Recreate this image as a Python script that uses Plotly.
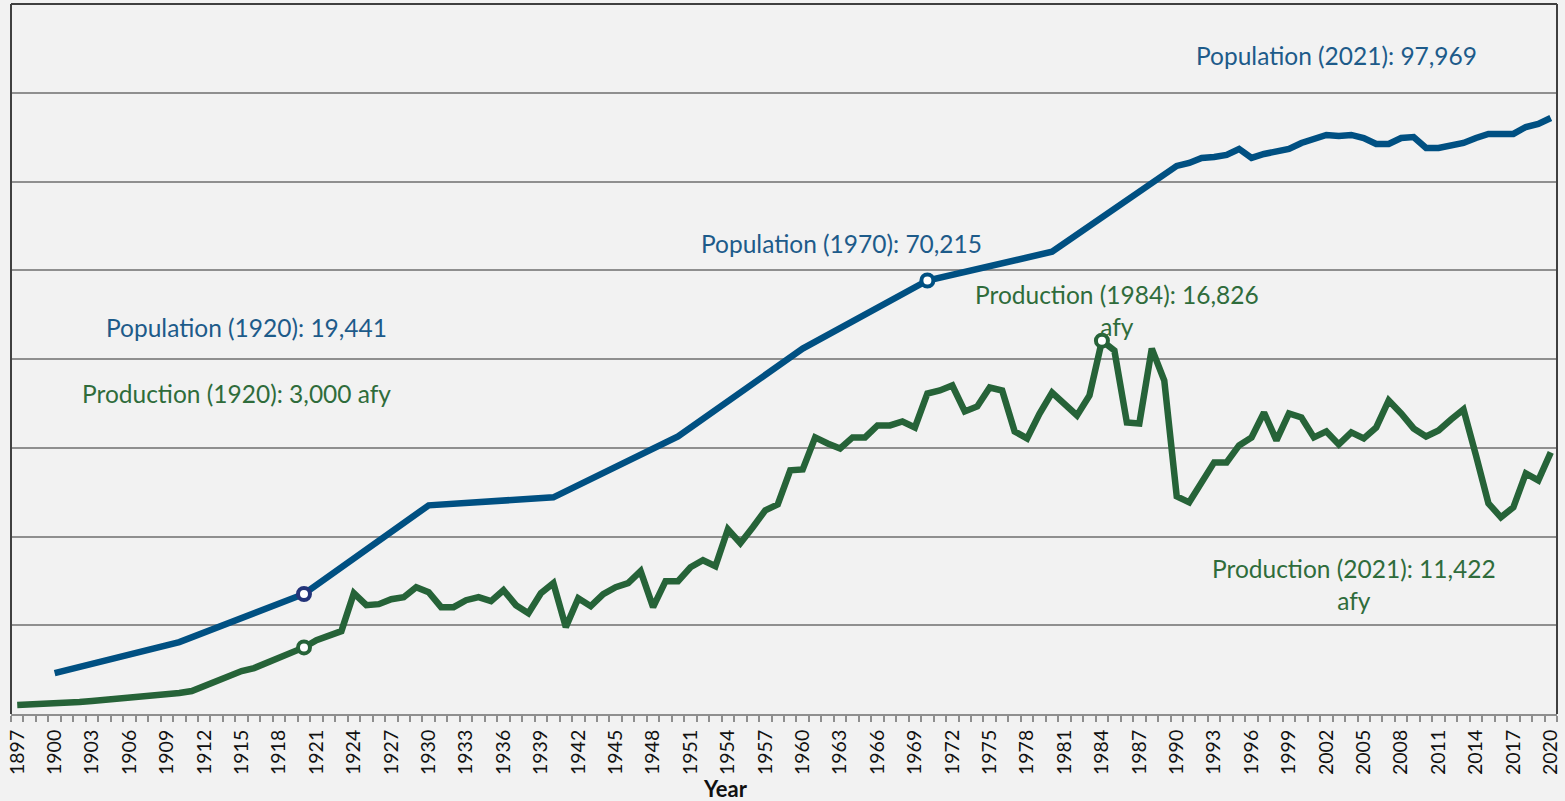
import plotly.graph_objects as go

# ---------------- data ----------------
years = list(range(1897, 2021))

production_afy = [
    405, 420, 435, 450, 495, 540, 585, 630, 675, 720,          # 1897-1906
    765, 810, 900, 945, 1035, 1260, 1530, 1755, 1935, 2070,    # 1907-1916
    2295, 2565, 2745, 3000, 3330, 3510, 3735, 5445, 4905, 4950,  # 1917-1926
    5175, 5265, 5715, 5490, 4815, 4815, 5130, 5265, 5085, 5580,  # 1927-1936
    4905, 4545, 5445, 5895, 3915, 5220, 4860, 5400, 5715, 5895,  # 1937-1946
    6435, 4815, 5985, 5985, 6615, 6930, 6660, 8325, 7695, 8415,  # 1947-1956
    9180, 9450, 10980, 11025, 12465, 12195, 11970, 12465, 12465, 13005,  # 1957-1966
    13005, 13185, 12915, 14445, 14580, 14805, 13635, 13860, 14715, 14580,  # 1967-1976
    12735, 12420, 13545, 14490, 13995, 13455, 14355, 16826, 16380, 13140,  # 1977-1986
    13095, 16470, 15030, 9810, 9540, 10440, 11340, 11340, 12105, 12465,    # 1987-1996
    13590, 12330, 13545, 13365, 12465, 12735, 12150, 12690, 12420, 12915,  # 1997-2006
    14130, 13545, 12870, 12510, 12780, 13275, 13725, 11655, 9495, 8865,    # 2007-2016
    9315, 10845, 10530, 11790,                                           # 2017-2020
]

population_years = [1900, 1910, 1920, 1930, 1940, 1950, 1960, 1970, 1980,
                    1990, 1991, 1992, 1993, 1994, 1995, 1996, 1997, 1998, 1999,
                    2000, 2001, 2002, 2003, 2004, 2005, 2006, 2007, 2008, 2009,
                    2010, 2011, 2012, 2013, 2014, 2015, 2016, 2017, 2018, 2019, 2020]
population = [6630, 11640, 19441, 33800, 35090, 44950, 59180, 70215, 74870,
              88770, 89260, 90070, 90230, 90550, 91520, 90070, 90710, 91200, 91520,
              92490, 93140, 93790, 93620, 93790, 93300, 92330, 92330, 93300, 93460,
              91680, 91680, 92010, 92490, 93300, 93950, 93950, 93950, 95080, 95560, 96530]

pop_marker_years = [1920, 1970]
pop_marker_values = [19441, 70215]
prod_marker_years = [1920, 1984]
prod_marker_values = [3000, 16826]

tick_years = list(range(1897, 2021, 3))
tick_labels = [str(y) for y in tick_years]

# ---------------- styling ----------------
BLUE = "#005082"
BLUE_TXT = "#1d5b8a"
NAVY = "#233479"
GREEN = "#266338"
GREEN_TXT = "#2f6c3b"
BG = "#f2f2f2"
GRID = "#8f8f8f"
BORDER = "#404040"
FONT = "Lato"

fig = go.Figure()

fig.add_trace(go.Scatter(
    x=years, y=production_afy, yaxis="y2", mode="lines",
    line=dict(color=GREEN, width=6.5), name="Production", showlegend=False))
fig.add_trace(go.Scatter(
    x=population_years, y=population, mode="lines",
    line=dict(color=BLUE, width=6.5), name="Population", showlegend=False))

fig.add_trace(go.Scatter(
    x=prod_marker_years, y=prod_marker_values, yaxis="y2", mode="markers",
    marker=dict(size=12, color="white", line=dict(color=GREEN, width=4)),
    showlegend=False))
fig.add_trace(go.Scatter(
    x=pop_marker_years, y=pop_marker_values, mode="markers",
    marker=dict(size=12, color="white", line=dict(color=[NAVY, BLUE], width=4)),
    showlegend=False))

annos = [
    ("Population (2021): 97,969", 2002.8, 0.927, BLUE_TXT),
    ("Population (1970): 70,215", 1963.1, 0.663, BLUE_TXT),
    ("Production (1984): 16,826<br>afy", 1985.2, 0.568, GREEN_TXT),
    ("Population (1920): 19,441", 1915.4, 0.545, BLUE_TXT),
    ("Production (1920): 3,000 afy", 1914.6, 0.452, GREEN_TXT),
    ("Production (2021): 11,422<br>afy", 2004.2, 0.182, GREEN_TXT),
]
annotations = []
for text, ax, ay, col in annos:
    annotations.append(dict(
        text=text, x=ax, y=ay, xref="x", yref="paper", showarrow=False,
        xanchor="center", yanchor="middle", align="center",
        font=dict(family=FONT, size=24.5, color=col)))
annotations.append(dict(
    text="<b>Year</b>", x=(727 - 11) / 1550, y=-0.1045, xref="paper", yref="paper",
    showarrow=False, xanchor="center", yanchor="middle",
    font=dict(family=FONT, size=22, color="#111111")))

shapes = [
    dict(type="line", xref="paper", yref="paper", x0=0, x1=0, y0=0, y1=1,
         line=dict(color=BORDER, width=2)),
    dict(type="line", xref="paper", yref="paper", x0=0, x1=1, y0=1, y1=1,
         line=dict(color=BORDER, width=2)),
    dict(type="line", xref="paper", yref="paper", x0=1, x1=1, y0=0, y1=1,
         line=dict(color=BORDER, width=2)),
]

fig.update_layout(
    width=1565, height=801,
    margin=dict(l=11, r=4, t=4, b=87),
    paper_bgcolor=BG, plot_bgcolor=BG,
    font=dict(family=FONT, color="#111111"),
    showlegend=False,
    xaxis=dict(
        range=[1896.5, 2020.5], tickmode="array", tickvals=tick_years, ticktext=tick_labels,
        tickangle=-90, ticks="", tickfont=dict(family=FONT, size=19.5, color="#111111"),
        ticklabeloverflow="allow", ticklabelstandoff=6,
        showgrid=False, zeroline=False, showline=True, linecolor=GRID, linewidth=2,
        minor=dict(tickmode="linear", tick0=1896.5, dtick=1, ticks="outside",
                   ticklen=6, tickwidth=1.5, tickcolor=GRID, showgrid=False),
    ),
    yaxis=dict(
        range=[0, 115000], tickmode="linear", tick0=0, dtick=14375,
        showticklabels=False, ticks="", showgrid=True, gridcolor=GRID, gridwidth=1.5,
        zeroline=False, showline=False,
    ),
    yaxis2=dict(
        range=[0, 32000], overlaying="y", side="right", showticklabels=False,
        ticks="", showgrid=False, zeroline=False, showline=False,
    ),
    annotations=annotations,
    shapes=shapes,
)

fig.write_html("out.html", config={"displayModeBar": False},
               post_script="document.body.style.margin='0';")
